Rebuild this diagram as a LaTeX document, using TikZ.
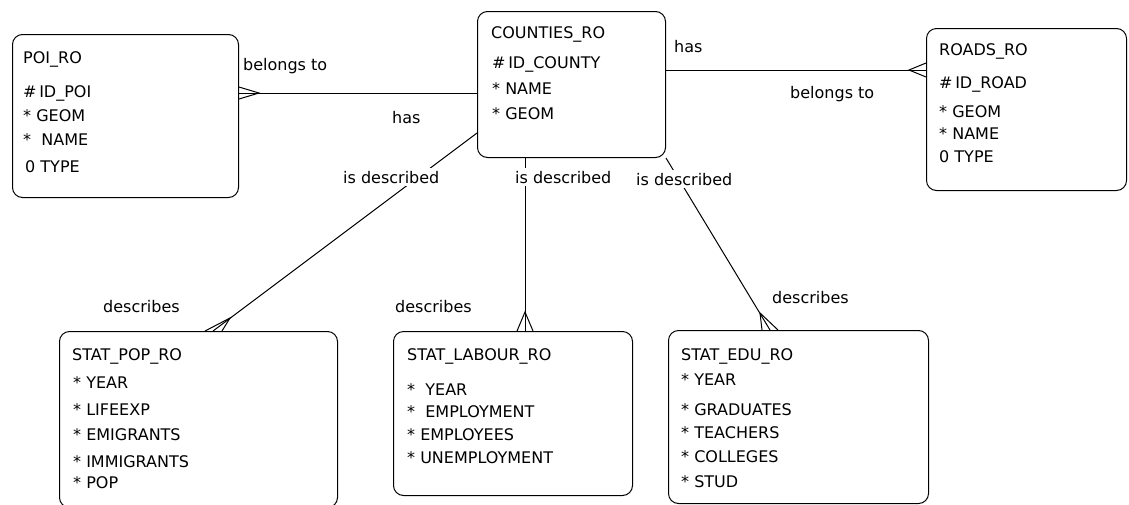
\documentclass[tikz,border=0pt]{standalone}
\usepackage{fontspec}
\setmainfont{DejaVu Sans}
\usetikzlibrary{calc}
\begin{document}
\begin{tikzpicture}[x=1pt,y=-1pt,
  ent/.style={draw, rounded corners=10pt, line width=1pt, inner sep=0, anchor=north west},
  txt/.style={anchor=base west, inner sep=0, font=\fontsize{16}{19}\selectfont},
  lbl/.style={txt, fill=white, inner sep=3pt},
  rel/.style={line width=1pt}]
\useasboundingbox (0,0) rectangle (1129,504);
\fill[white] (0,0) rectangle (1129,504);
\clip (0,0) rectangle (1129,504);

% entities
\node[ent, minimum width=226pt, minimum height=163pt] (poi) at (12,34) {};
\node[ent, minimum width=188pt, minimum height=146pt] (cty) at (477,11) {};
\node[ent, minimum width=200pt, minimum height=162pt] (rds) at (926,28) {};
\node[ent, minimum width=278pt, minimum height=176pt] (pop) at (59,331) {};
\node[ent, minimum width=239pt, minimum height=164pt] (lab) at (393,331) {};
\node[ent, minimum width=260pt, minimum height=173pt] (edu) at (668,330) {};

% POI_RO
\node[txt] (poiT) at (23,63) {POI\_RO};
\node[txt] (poi1) at (23,97) {\#\,ID\_POI};
\node[txt] (poi2) at (23,121) {* GEOM};
\node[txt] (poi3) at (23,145) {*\ \ NAME};
\node[txt] (poi4) at (25,172) {0 TYPE};

% COUNTIES_RO
\node[txt] (ctyT) at (491,38) {COUNTIES\_RO};
\node[txt] (cty1) at (492,68) {\#\,ID\_COUNTY};
\node[txt] (cty2) at (492,94) {* NAME};
\node[txt] (cty3) at (492,119) {* GEOM};

% ROADS_RO
\node[txt] (rdsT) at (939,55) {ROADS\_RO};
\node[txt] (rds1) at (939,88) {\#\,ID\_ROAD};
\node[txt] (rds2) at (939,117) {* GEOM};
\node[txt] (rds3) at (939,139) {* NAME};
\node[txt] (rds4) at (939,162) {0 TYPE};

% STAT_POP_RO
\node[txt] (popT) at (72,360) {STAT\_POP\_RO};
\node[txt] (pop1) at (73,388) {* YEAR};
\node[txt] (pop2) at (73,415) {* LIFEEXP};
\node[txt] (pop3) at (73,440) {* EMIGRANTS};
\node[txt] (pop4) at (73,467) {* IMMIGRANTS};
\node[txt] (pop5) at (73,488) {* POP};

% STAT_LABOUR_RO
\node[txt] (labT) at (407,360) {STAT\_LABOUR\_RO};
\node[txt] (lab1) at (407,395) {*\ \ YEAR};
\node[txt] (lab2) at (407,417) {*\ \ EMPLOYMENT};
\node[txt] (lab3) at (407,440) {* EMPLOYEES};
\node[txt] (lab4) at (407,463) {* UNEMPLOYMENT};

% STAT_EDU_RO
\node[txt] (eduT) at (681,360) {STAT\_EDU\_RO};
\node[txt] (edu1) at (681,385) {* YEAR};
\node[txt] (edu2) at (681,415) {* GRADUATES};
\node[txt] (edu3) at (681,438) {* TEACHERS};
\node[txt] (edu4) at (681,462) {* COLLEGES};
\node[txt] (edu5) at (681,487) {* STUD};

% relationships
\draw[rel] ($(poi.north east)+(0,59)$) -- ($(cty.north west)+(0,82)$);
\draw[rel] ($(poi.north east)+(0,53)$) -- ($(poi.north east)+(20,59)$) -- ($(poi.north east)+(0,65)$);

\draw[rel] ($(cty.north east)+(0,59)$) -- ($(rds.north west)+(0,42)$);
\draw[rel] ($(rds.north west)+(0,35)$) -- ($(rds.north west)+(-17,42)$) -- ($(rds.north west)+(0,49)$);

\draw[rel] ($(cty.north west)+(0,122)$) -- ($(pop.north west)+(154,0)$);
\draw[rel] ($(pop.north west)+(146,0)$) -- ($(pop.north west)+(171,-13)$) -- ($(pop.north west)+(163,0)$);

\draw[rel] ($(cty.south west)+(48,0)$) -- ($(lab.north west)+(132,0)$);
\draw[rel] ($(lab.north west)+(124,0)$) -- ($(lab.north west)+(132,-19)$) -- ($(lab.north west)+(140,0)$);

\draw[rel] (cty.south east) -- ($(edu.north west)+(102,0)$);
\draw[rel] ($(edu.north west)+(94,0)$) -- ($(edu.north west)+(92,-17)$) -- ($(edu.north west)+(110,0)$);

% relationship labels
\node[txt] (l1) at (243,70) {belongs to};
\node[txt] (l2) at (392,123) {has};
\node[txt] (l3) at (674,52) {has};
\node[txt] (l4) at (790,98) {belongs to};
\node[lbl] (l5) at (340,183) {is described};
\node[lbl] (l6) at (512,183) {is described};
\node[lbl] (l7) at (633,185) {is described};
\node[txt] (l8) at (103,312) {describes};
\node[txt] (l9) at (395,312) {describes};
\node[txt] (l10) at (772,303) {describes};
\end{tikzpicture}
\end{document}
